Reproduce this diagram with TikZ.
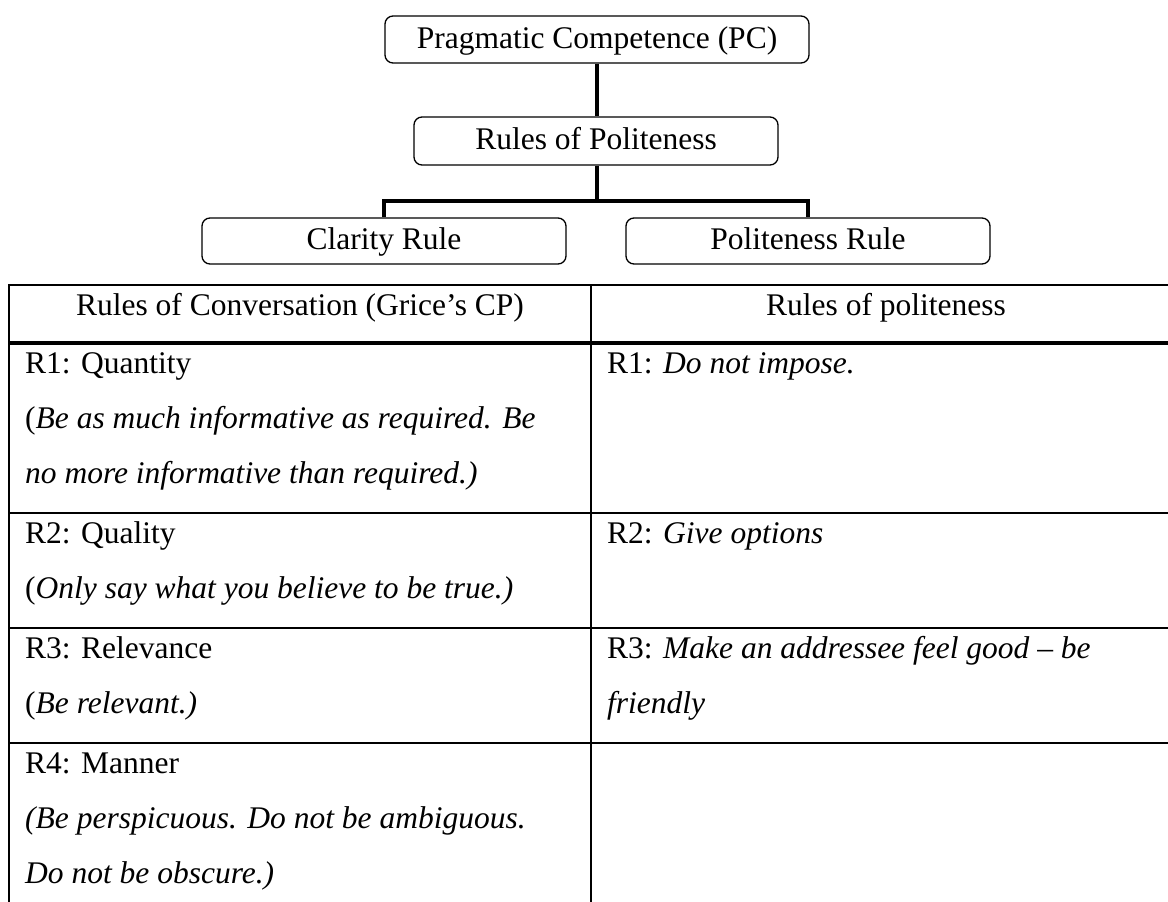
\documentclass[tikz,border=0pt]{standalone}
\usepackage{fontspec}
\setmainfont{Liberation Serif}
\begin{document}
\begin{tikzpicture}[x=1pt,y=-1pt,
  box/.style={draw,line width=1.3pt,rounded corners=8pt,inner sep=0pt,
    text height=24pt,text depth=7pt,
    font=\fontsize{31.5}{38}\selectfont},
  conn/.style={line width=4.5pt,line join=miter},
  rule/.style={line width=2pt},
  hrule/.style={line width=3.3pt},
  cell/.style={anchor=base west,inner sep=0pt,font=\fontsize{31.5}{38}\selectfont},
  head/.style={anchor=base,inner sep=0pt,font=\fontsize{31.5}{38}\selectfont}]
\useasboundingbox (0,0) rectangle (1168,902);
% tree
\node[box,minimum width=424pt,minimum height=47pt] (pc) at (597,39.5) {Pragmatic Competence (PC)};
\node[box,minimum width=364pt,minimum height=48pt] (rop) at (596,141) {Rules of Politeness};
\node[box,minimum width=364pt,minimum height=46pt] (clar) at (384,241) {Clarity Rule};
\node[box,minimum width=364pt,minimum height=46pt] (pol) at (808,241) {Politeness Rule};
\coordinate (jl) at (384,201);
\coordinate (jm) at (597,201);
\coordinate (jr) at (808,201);
\draw[conn] (pc.south -| jm) -- (rop.north -| jm);
\draw[conn] (rop.south -| jm) -- (jm);
\draw[conn] (clar.north) -- (jl) -- (jr) -- (pol.north);
% table rules
\draw[rule] (9,285) -- (1168,285);
\draw[hrule] (9,343) -- (1168,343);
\draw[rule] (9,512.5) -- (1168,512.5);
\draw[rule] (9,627.5) -- (1168,627.5);
\draw[rule] (9,742.5) -- (1168,742.5);
\draw[rule] (9,284) -- (9,902);
\draw[rule] (591,284) -- (591,902);
% header
\node[head] (h1) at (300,315) {Rules of Conversation (Grice’s CP)};
\node[head] (h2) at (886,315) {Rules of politeness};
% left column
\node[cell] (l1a) at (25,373) {R1: Quantity};
\node[cell] (l1b) at (25,428) {(\textit{Be as much informative as required. Be}};
\node[cell] (l1c) at (25,483) {\textit{no more informative than required.)}};
\node[cell] (l2a) at (25,543) {R2: Quality};
\node[cell] (l2b) at (25,598) {(\textit{Only say what you believe to be true.)}};
\node[cell] (l3a) at (25,658) {R3: Relevance};
\node[cell] (l3b) at (25,713) {(\textit{Be relevant.)}};
\node[cell] (l4a) at (25,773) {R4: Manner};
\node[cell] (l4b) at (25,828) {\textit{(Be perspicuous. Do not be ambiguous.}};
\node[cell] (l4c) at (25,883) {\textit{Do not be obscure.)}};
% right column
\node[cell] (r1a) at (607,373) {R1: \textit{Do not impose.}};
\node[cell] (r2a) at (607,543) {R2: \textit{Give options}};
\node[cell] (r3a) at (607,658) {R3: \textit{Make an addressee feel good – be}};
\node[cell] (r3b) at (607,713) {\textit{friendly}};
\end{tikzpicture}
\end{document}
